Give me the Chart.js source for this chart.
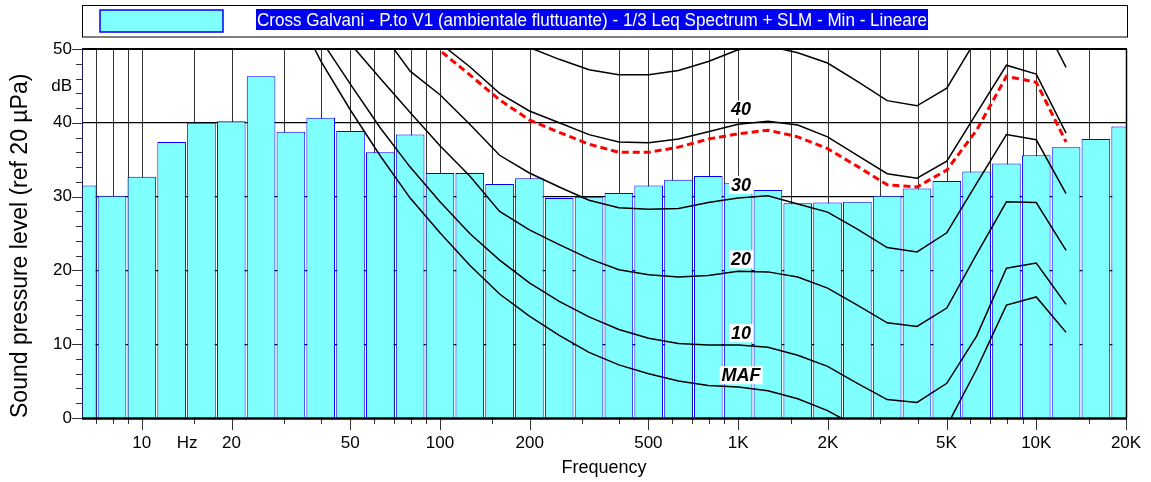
<!DOCTYPE html>
<html>
<head>
<meta charset="utf-8">
<title>Cross Galvani - 1/3 Leq Spectrum</title>
<script src="https://cdn.jsdelivr.net/npm/chart.js@4.4.1/dist/chart.umd.min.js"></script>
<style>
    html, body { margin: 0; padding: 0; background: #ffffff; }
    #wrap { position: relative; width: 1151px; height: 482px; }
</style>
</head>
<body>
<div id="wrap"><canvas id="spectrum"></canvas></div>
<script>
// 1/3 octave bands (nominal centre, Hz) and measured Leq Min levels (dB)
const BANDS = [6.3, 8, 10, 12.5, 16, 20, 25, 31.5, 40, 50, 63, 80, 100, 125, 160, 200, 250, 315,
    400, 500, 630, 800, 1000, 1250, 1600, 2000, 2500, 3150, 4000, 5000, 6300, 8000, 10000,
    12500, 16000, 20000];
const LEVELS = [31.5, 30.1, 32.7, 37.4, 40.0, 40.2, 46.3, 38.8, 40.7, 38.9, 36.0, 38.4, 33.2,
    33.2, 31.7, 32.5, 29.8, 29.9, 30.5, 31.5, 32.3, 32.8, 31.8, 30.9, 29.1, 29.2, 29.3, 30.1,
    31.1, 32.1, 33.4, 34.5, 35.6, 36.7, 37.8, 39.5];

// equal loudness contours (dB at each frequency)
const CONTOUR_FREQS = [20, 25, 31.5, 40, 50, 63, 80, 100, 125, 160, 200, 250, 315, 400, 500,
    630, 800, 1000, 1250, 1600, 2000, 2500, 3150, 4000, 5000, 6300, 8000, 10000, 12500];
const MAF = [74.3, 65.0, 56.3, 48.4, 41.7, 35.5, 29.8, 25.1, 20.7, 16.8, 13.8, 11.2, 8.9, 7.2,
    6.0, 5.0, 4.4, 4.2, 3.7, 2.6, 1.0, -1.2, -3.6, -3.9, -1.1, 6.6, 15.3, 16.4, 11.6];
const PHON_10 = [77, 68, 60, 51.3, 45.2, 39.3, 34.0, 29.3, 25.0, 21.4, 18.3, 15.8, 13.7, 12.0,
    10.8, 10.1, 9.9, 9.9, 9.6, 8.5, 7.0, 4.7, 2.5, 2.1, 4.7, 11.1, 20.3, 21.0, 15.4];
const PHON_20 = [78.5, 70.5, 63, 56.5, 50.7, 46.0, 41.4, 36.9, 32.8, 28.0, 25.5, 23.5, 21.6, 20.1,
    19.4, 19.1, 19.3, 19.9, 19.8, 19.1, 17.6, 15.3, 12.9, 12.4, 14.9, 22.2, 29.3, 29.2, 22.7];
const PHON_30 = [80, 74, 68.5, 63, 58, 52.5, 47.0, 43.8, 39.8, 35.6, 33.2, 31.3, 29.5, 28.5,
    28.3, 28.4, 29.2, 29.8, 30.1, 29.0, 27.9, 25.6, 23.1, 22.5, 25.1, 31.8, 38.4, 37.7, 30.4];
const PHON_40 = [83, 78, 73.5, 69, 64.5, 60, 55, 50.8, 47.6, 44.0, 41.6, 40.0, 38.4, 37.4,
    37.3, 37.8, 38.8, 39.8, 40.2, 39.7, 38.1, 35.6, 33.1, 32.5, 34.8, 41.3, 47.8, 46.6, 38.6];
const PHON_50 = [86, 82, 78, 74.5, 71, 67, 63, 59.5, 56, 53, 50.2, 48.6, 47.2, 46.5,
    46.5, 47.1, 48.3, 49.9, 50.4, 49.5, 48.1, 45.6, 43.0, 42.3, 44.7, 51.4, 56.8, 55.4, 47.5];
// loudness contour of the measured spectrum (red dashed)
const SPECTRUM_CONTOUR = [82, 77, 72, 67.5, 63, 58.5, 53.8, 49.8, 46.5, 43.1, 40.4, 38.7, 37.1,
    36.0, 36.0, 36.7, 37.8, 38.5, 39.0, 38.1, 36.5, 34.1, 31.6, 31.3, 33.6, 39.0, 46.3, 45.5, 37.4];

const CONTOUR_LABELS = ['MAF', '10', '20', '30', '40'];
const CONTOUR_LABEL_DB = [5.8, 11.5, 21.5, 31.6, 41.8];

// axis ticks
const X_TICK_VALUES = [10, 14.2, 20, 50, 100, 200, 500, 1000, 2000, 5000, 10000, 20000];
const X_TICK_LABELS = ['10', 'Hz', '20', '50', '100', '200', '500', '1K', '2K', '5K', '10K', '20K'];
const X_GRID = [7, 8, 9, 10, 15, 20, 30, 40, 50, 60, 70, 80, 90, 100, 150, 200, 300, 400, 500,
    600, 700, 800, 900, 1000, 1500, 2000, 3000, 4000, 5000, 6000, 7000, 8000, 9000, 10000, 15000];
const Y_TICK_VALUES = [0, 10, 20, 30, 40, 45, 50];
const Y_TICK_LABELS = ['0', '10', '20', '30', '40', 'dB', '50'];

const LEGEND_TEXT = 'Cross Galvani - P.to V1 (ambientale fluttuante) - 1/3 Leq Spectrum + SLM - Min - Lineare';

const NARROW = "'Liberation Sans Narrow', 'Arial Narrow', 'Liberation Sans', Arial, sans-serif";
const REGULAR = "'Liberation Sans', Arial, sans-serif";

// exact base-10 centre of a nominal 1/3 octave band
function bandCentre(f) {
    return Math.pow(10, Math.round(Math.log10(f) * 10) / 10);
}

function toPoints(freqs, values) {
    return freqs.map((f, i) => ({ x: bandCentre(f), y: values[i] }));
}

function contour(values, color, width, dash) {
    return {
        type: 'line',
        data: toPoints(CONTOUR_FREQS, values),
        borderColor: color,
        borderWidth: width,
        borderDash: dash || [],
        pointRadius: 0,
        tension: 0,
        fill: false,
        clip: 0,
        order: 1
    };
}

// vertical log grid behind the bars, frame and tick marks on top
const frameAndGrid = {
    id: 'frameAndGrid',
    beforeDatasetsDraw(chart) {
        const { ctx, chartArea: a, scales: { x } } = chart;
        ctx.save();
        ctx.strokeStyle = 'rgba(0, 0, 0, 0.8)';
        ctx.lineWidth = 1;
        ctx.beginPath();
        X_GRID.forEach(v => {
            const px = Math.round(x.getPixelForValue(v)) + 0.5;
            ctx.moveTo(px, a.top);
            ctx.lineTo(px, a.bottom);
        });
        ctx.stroke();
        ctx.restore();
    },
    afterDatasetsDraw(chart) {
        const { ctx, chartArea: a, scales: { x, y } } = chart;
        ctx.save();

        // x tick marks
        ctx.strokeStyle = '#333';
        ctx.lineWidth = 1;
        ctx.beginPath();
        const major = X_TICK_VALUES.filter((v, i) => X_TICK_LABELS[i] !== 'Hz');
        X_GRID.concat([20000]).forEach(v => {
            const px = Math.round(x.getPixelForValue(v)) + 0.5;
            const len = major.includes(v) ? 12 : 6;
            ctx.moveTo(px, a.bottom);
            ctx.lineTo(px, a.bottom + len);
        });
        // y tick marks, every 2 dB
        for (let v = 0; v <= 50; v += 2) {
            const py = Math.round(y.getPixelForValue(v)) + 0.5;
            const len = v % 10 === 0 ? 10 : 6;
            ctx.moveTo(a.left, py);
            ctx.lineTo(a.left - len, py);
        }
        ctx.stroke();

        // frame
        ctx.strokeStyle = '#000';
        ctx.lineWidth = 2;
        ctx.beginPath();
        ctx.moveTo(a.left, a.top);
        ctx.lineTo(a.right + 1, a.top);
        ctx.stroke();
        ctx.lineWidth = 1.5;
        ctx.beginPath();
        ctx.moveTo(a.right + 0.5, a.top);
        ctx.lineTo(a.right + 0.5, a.bottom);
        ctx.stroke();
        ctx.lineWidth = 2.5;
        ctx.beginPath();
        ctx.moveTo(a.left, a.bottom + 0.5);
        ctx.lineTo(a.right + 1, a.bottom + 0.5);
        ctx.stroke();
        ctx.strokeStyle = '#1a1a5a';
        ctx.lineWidth = 1;
        ctx.beginPath();
        ctx.moveTo(a.left + 0.5, a.top);
        ctx.lineTo(a.left + 0.5, a.bottom);
        ctx.stroke();

        // contour labels
        ctx.font = 'italic bold 18px ' + NARROW;
        ctx.textAlign = 'center';
        ctx.textBaseline = 'middle';
        const lx = x.getPixelForValue(1000) + 3;
        CONTOUR_LABELS.forEach((txt, i) => {
            const ly = y.getPixelForValue(CONTOUR_LABEL_DB[i]);
            const w = ctx.measureText(txt).width + 4;
            ctx.fillStyle = '#ffffff';
            ctx.fillRect(lx - w / 2, ly - 9, w, 18);
            ctx.fillStyle = '#000';
            ctx.fillText(txt, lx, ly + 1);
        });
        ctx.restore();
    },
    afterDraw(chart) {
        // legend box
        const { ctx, chartArea: a } = chart;
        ctx.save();
        ctx.strokeStyle = '#000';
        ctx.lineWidth = 1;
        ctx.strokeRect(a.left + 0.5, 5.5, a.right - a.left + 1, 31.5);
        ctx.fillStyle = '#80ffff';
        ctx.fillRect(100, 10, 123, 22);
        ctx.strokeStyle = '#0000ff';
        ctx.lineWidth = 1.5;
        ctx.strokeRect(100, 10, 123, 22);
        ctx.fillStyle = '#0000f0';
        ctx.fillRect(256, 9, 672, 21);
        ctx.fillStyle = '#ffffff';
        ctx.font = '19px ' + NARROW;
        ctx.textAlign = 'left';
        ctx.textBaseline = 'middle';
        ctx.fillText(LEGEND_TEXT, 257, 20.5, 670);
        ctx.restore();
    }
};

const ctx = document.getElementById('spectrum');

new Chart(ctx, {
    type: 'bar',
    data: {
        datasets: [
            {
                type: 'bar',
                label: 'Leq Min',
                data: toPoints(BANDS, LEVELS),
                backgroundColor: '#80ffff',
                borderColor: '#0000ff',
                borderWidth: 1,
                barPercentage: 0.96,
                categoryPercentage: 1,
                clip: 0,
                order: 10
            },
            contour(MAF, '#000', 1.5),
            contour(PHON_10, '#000', 1.5),
            contour(PHON_20, '#000', 1.5),
            contour(PHON_30, '#000', 1.5),
            contour(PHON_40, '#000', 1.5),
            contour(PHON_50, '#000', 1.5),
            contour(SPECTRUM_CONTOUR, '#ff0000', 3, [7, 4])
        ]
    },
    options: {
        responsive: true,
        maintainAspectRatio: false,
        animation: false,
        events: [],
        layout: { padding: { top: 49, right: 25, bottom: 0, left: 0 } },
        plugins: {
            legend: { display: false },
            tooltip: { enabled: false }
        },
        scales: {
            x: {
                type: 'logarithmic',
                min: 6.3,
                max: 20000,
                offset: false,
                afterBuildTicks: scale => {
                    scale.ticks = X_TICK_VALUES.map(v => ({ value: v }));
                },
                afterFit: scale => {
                    scale.height = 64;
                    scale.paddingLeft = 0;
                    scale.paddingRight = 0;
                },
                grid: { display: false, offset: false, drawTicks: false },
                border: { display: false },
                ticks: {
                    autoSkip: false,
                    maxRotation: 0,
                    padding: 15,
                    color: '#000',
                    font: { family: NARROW, size: 17 },
                    callback: (value, index) => X_TICK_LABELS[index]
                },
                title: {
                    display: true,
                    text: 'Frequency',
                    color: '#000',
                    font: { family: REGULAR, size: 18 },
                    padding: { top: 0, bottom: 3 }
                }
            },
            y: {
                min: 0,
                max: 50,
                afterBuildTicks: scale => {
                    scale.ticks = Y_TICK_VALUES.map(v => ({ value: v }));
                },
                afterFit: scale => {
                    scale.width = 82;
                    scale.paddingTop = 0;
                    scale.paddingBottom = 0;
                },
                grid: {
                    drawTicks: false,
                    lineWidth: 1.3,
                    color: c => (c.tick && [10, 20, 30, 40].includes(c.tick.value)) ? '#000' : 'rgba(0,0,0,0)'
                },
                border: { display: false },
                ticks: {
                    padding: 10,
                    color: '#000',
                    font: { family: NARROW, size: 17 },
                    callback: (value, index) => Y_TICK_LABELS[index]
                },
                title: {
                    display: true,
                    text: 'Sound pressure level (ref 20 µPa)',
                    align: 'start',
                    color: '#000',
                    font: { family: REGULAR, size: 23 },
                    padding: { top: 7, bottom: 0 }
                }
            }
        }
    },
    plugins: [frameAndGrid]
});
</script>
</body>
</html>
